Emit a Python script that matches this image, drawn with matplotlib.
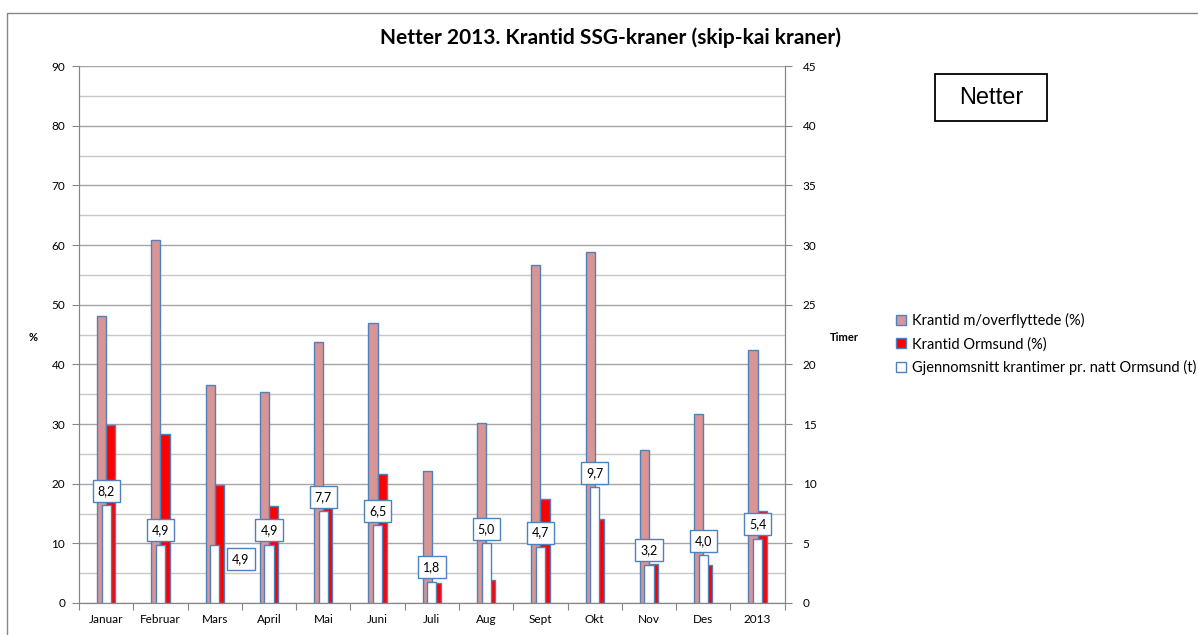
import numpy as np
import matplotlib.pyplot as plt
from matplotlib.patches import Rectangle

plt.rcParams['font.family'] = ['Lato', 'DejaVu Sans']

# data
months = ["Januar", "Februar", "Mars", "April", "Mai", "Juni", "Juli",
          "Aug", "Sept", "Okt", "Nov", "Des", "2013"]
krantid_overfl = [48.1, 60.9, 36.5, 35.3, 43.7, 46.9, 22.2, 30.2, 56.6, 58.8, 25.6, 31.6, 42.4]
krantid_ormsund = [29.8, 28.4, 19.8, 16.2, 16.0, 21.7, 3.3, 3.9, 17.5, 14.0, 6.6, 6.4, 15.4]
snitt_timer = [8.2, 4.9, 4.9, 4.9, 7.7, 6.5, 1.8, 5.0, 4.7, 9.7, 3.2, 4.0, 5.4]

edge = '#4F81BD'
grid_c = '#A6A6A6'
axis_c = '#868686'

fig = plt.figure(figsize=(11.98, 6.35), dpi=100)
ax = fig.add_axes([0.066, 0.0504, 0.589, 0.8456])
ax2 = ax.twinx()

x = np.arange(len(months))
w = 0.168
b1 = ax.bar(x - w / 2, krantid_overfl, w, color='#D99594', edgecolor=edge, linewidth=1.0,
            label='Krantid m/overflyttede (%)', zorder=3)
b2 = ax.bar(x + w / 2, krantid_ormsund, w, color='#FF0000', edgecolor=edge, linewidth=1.0,
            label='Krantid Ormsund (%)', zorder=3)
b3 = ax2.bar(x, snitt_timer, w, color='white', edgecolor=edge, linewidth=1.0,
             label='Gjennomsnitt krantimer pr. natt Ormsund (t)', zorder=3)

# data labels
for i, v in enumerate(snitt_timer):
    txt = f"{v:.1f}".replace('.', ',')
    if months[i] == "Mars":
        pos, off = (x[i] + 0.48, 3.7), (0, 0)
        va = 'center'
    else:
        pos, off = (x[i], v), (0, 6)
        va = 'bottom'
    ax2.annotate(txt, pos, xytext=off, textcoords='offset points', ha='center', va=va,
                 fontsize=9, zorder=5,
                 bbox=dict(boxstyle='square,pad=0.4', fc='white', ec=edge, lw=1.0))

ax.set_xlim(-0.5, len(months) - 0.5)
ax.set_ylim(0, 90)
ax2.set_ylim(0, 45)
ax.set_yticks(np.arange(0, 91, 10))
ax.set_yticks(np.arange(5, 90, 10), minor=True)
ax2.set_yticks(np.arange(0, 46, 5))
ax.grid(axis='y', which='major', color=grid_c, lw=1.0, zorder=0)
ax.grid(axis='y', which='minor', color='#C8C8C8', lw=1.0, zorder=0)
ax.set_axisbelow(True)

ax.set_xticks(np.arange(-0.5, len(months), 1))
ax.set_xticklabels([])
ax.set_xticks(x, minor=True)
ax.set_xticklabels(months, minor=True, fontsize=8.5)
ax.tick_params(axis='x', which='minor', length=0, pad=8)
ax.tick_params(axis='x', which='major', length=5, color=axis_c)
ax.tick_params(axis='y', which='major', length=5, color=axis_c, labelsize=8.5, pad=5)
ax.tick_params(axis='y', which='minor', length=0)
ax2.tick_params(axis='y', length=5, color=axis_c, labelsize=8.5, pad=8)

for a in (ax, ax2):
    a.spines['top'].set_visible(False)
    for s in ('left', 'right', 'bottom'):
        a.spines[s].set_color(axis_c)

fig.text(0.0275, 0.468, '%', fontsize=8, fontweight='bold', va='center', ha='center')
fig.text(0.705, 0.468, 'Timer', fontsize=8, fontweight='bold', va='center', ha='center')

fig.suptitle('Netter 2013. Krantid SSG-kraner (skip-kai kraner)', x=0.51, y=0.940,
             fontsize=15, fontweight='bold', va='center')

# "Netter" box
fig.patches.append(Rectangle((935 / 1198, 1 - 121 / 635), 112 / 1198, 47 / 635,
                             transform=fig.transFigure, fill=False, ec='black', lw=1.3))
fig.text(991 / 1198, 1 - 98 / 635, 'Netter', fontsize=17, family='Liberation Sans',
         ha='center', va='center')

fig.legend(handles=[b1, b2, b3], loc='center left', bbox_to_anchor=(0.737, 0.458),
           frameon=False, fontsize=10.5, handlelength=0.65, handleheight=0.65,
           handletextpad=0.45, labelspacing=0.6)

# outer chart border
fig.patches.append(Rectangle((7 / 1198, -0.01), 1.05, 1 - 13 / 635 + 0.01,
                             transform=fig.transFigure, fill=False, ec='#868686', lw=1.0))

fig.savefig('out.png', dpi=100)
